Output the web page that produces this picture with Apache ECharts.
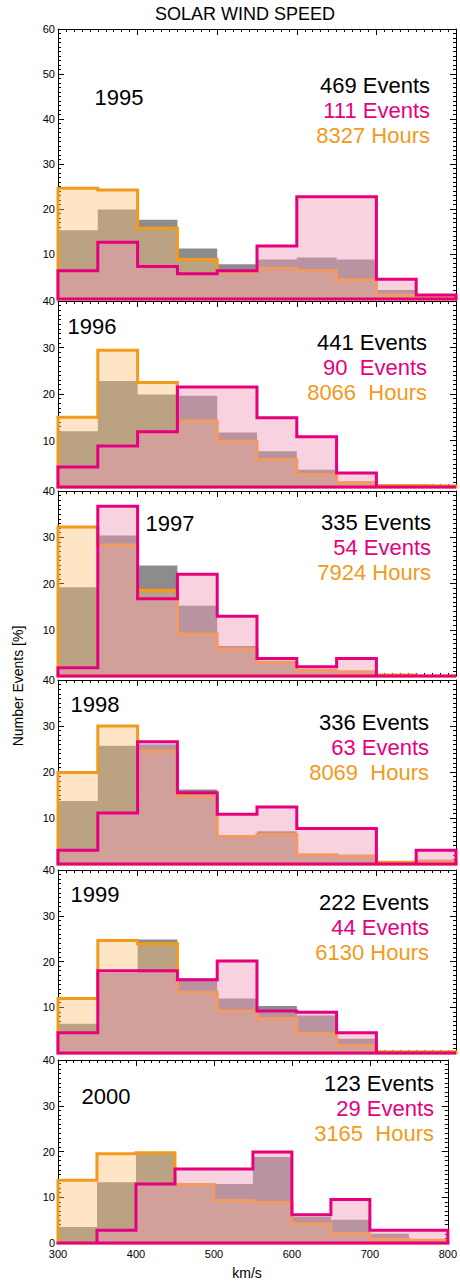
<!DOCTYPE html>
<html><head><meta charset="utf-8">
<script src="https://cdn.jsdelivr.net/npm/echarts@6.0.0/dist/echarts.min.js"></script>
<style>html,body{margin:0;padding:0;background:#fff}#c{width:460px;height:1282px}</style>
</head><body><div id="c"></div>
<script>
// ---- data ----
const binEdges = [300,350,400,450,500,550,600,650,700,750,800];
const years = ['1995','1996','1997','1998','1999','2000'];

// all events (gray), selected events (magenta), hours (orange) in % per 50 km/s bin
const all1995 = [15.3,19.9,17.6,11.2,7.7,8.8,9.2,8.8,2.0,1.0];
const hrs1995 = [24.6,24.2,15.7,8.8,6.0,6.8,6.3,4.2,0.9,0.5];
const sel1995 = [6.3,12.6,7.2,5.6,6.3,11.8,22.7,22.7,4.4,0.9];

const all1996 = [12.0,22.8,19.9,19.6,11.7,7.7,3.7,1.2,0.5,0.2];
const hrs1996 = [15.0,29.4,22.5,14.2,9.8,5.9,2.7,0.9,0.3,0.2];
const sel1996 = [4.3,8.8,11.9,21.5,21.5,14.9,10.8,3.0,0,0];

const all1997 = [19.2,30.4,23.9,15.2,6.5,3.3,1.4,1.1,0.2,0];
const hrs1997 = [32.2,28.3,18.5,9.1,5.8,2.9,1.2,0.9,0.2,0];
const sel1997 = [1.8,36.7,16.7,22.0,12.9,3.8,2.0,3.8,0,0];

const all1998 = [13.7,25.7,26.0,16.2,6.0,7.1,2.2,2.0,0.3,0.9];
const hrs1998 = [19.9,30.0,24.5,14.8,6.0,6.4,2.0,1.7,0.4,0.6];
const sel1998 = [3.0,11.1,26.6,15.5,10.8,12.4,7.7,7.7,0,3.0];

const all1999 = [6.4,17.5,24.8,16.3,11.9,10.3,8.2,3.1,0.2,0];
const hrs1999 = [11.9,24.6,23.9,13.3,9.2,7.5,4.2,1.7,0.3,0.3];
const sel1999 = [4.4,18.0,18.0,16.0,20.1,9.2,8.9,4.4,0,0];

const all2000 = [3.5,13.3,19.5,12.5,12.9,18.8,5.7,5.1,2.0,0.9];
const hrs2000 = [13.7,19.5,19.7,12.8,9.3,8.8,4.2,2.0,0.9,0.6];
const sel2000 = [0,2.8,12.9,16.2,16.2,19.9,6.2,9.5,2.8,2.8];

const countAll = ['469 Events','441 Events','335 Events','336 Events','222 Events','123 Events'];
const countSel = ['111 Events','90  Events','54 Events','63 Events','44 Events','29 Events'];
const countHrs = ['8327 Hours','8066  Hours','7924 Hours','8069  Hours','6130 Hours','3165  Hours'];
const yMaxList = [60,40,40,40,40,40];

const allSets = [all1995,all1996,all1997,all1998,all1999,all2000];
const hrsSets = [hrs1995,hrs1996,hrs1997,hrs1998,hrs1999,hrs2000];
const selSets = [sel1995,sel1996,sel1997,sel1998,sel1999,sel2000];

// ---- layout ----
const FONT = "'Liberation Sans', Arial, Helvetica, sans-serif";
const panelTop = [29,301,491,680,870,1060];
const panelHeight = [270,186,185,184,183,183];
const gridLeft = 58, gridRight = 4;
const yearPos = [[119,97],[92,326],[170,523],[95,704],[95,894],[106,1096]];
const countRight = [430,427,431,429,429,434];
const countTop = [85.5,342.5,522,722.5,902,1083];
const lineGap = 25;

const C_GRAY = '#8c8c8c';
const C_ORANGE = '#f29a1c';
const C_PINK = '#e6007e';

function areaData(vals){
  const d = vals.map((v,i)=>[binEdges[i], v]);
  d.push([binEdges[binEdges.length-1], vals[vals.length-1]]);
  return d;
}
function outlineData(vals){
  const d = [[binEdges[0],0]];
  vals.forEach((v,i)=>d.push([binEdges[i], v]));
  const last = binEdges[binEdges.length-1];
  d.push([last, vals[vals.length-1]]);
  d.push([last, 0]);
  d.push([binEdges[0], 0]);
  return d;
}

const grids=[], xAxes=[], yAxes=[], series=[], graphics=[];
const tickCommon = {
  axisLine:{show:true,onZero:false,lineStyle:{color:'#000',width:1}},
  axisTick:{show:true,inside:true,length:6,lineStyle:{color:'#000',width:1}},
  minorTick:{show:true,splitNumber:10,length:3,lineStyle:{color:'#000',width:1}},
  splitLine:{show:false}, minorSplitLine:{show:false}
};
for(let i=0;i<6;i++){
  grids.push({left:gridLeft,right:gridRight,top:panelTop[i],height:panelHeight[i],containLabel:false});
}
for(let i=0;i<6;i++){
  xAxes.push(Object.assign({type:'value',gridIndex:i,min:300,max:800,interval:100,position:'bottom',
    axisLabel:{show:i===5,fontSize:11,color:'#000',margin:5,fontFamily:FONT}}, JSON.parse(JSON.stringify(tickCommon))));
}
for(let i=0;i<6;i++){
  xAxes.push(Object.assign({type:'value',gridIndex:i,min:300,max:800,interval:100,position:'top',
    axisLabel:{show:false}}, JSON.parse(JSON.stringify(tickCommon))));
}
for(let i=0;i<6;i++){
  yAxes.push(Object.assign({type:'value',gridIndex:i,min:0,max:yMaxList[i],interval:10,position:'left',
    axisLabel:{show:true,fontSize:11,color:'#000',margin:3,fontFamily:FONT,showMinLabel:i===5,showMaxLabel:true}}, JSON.parse(JSON.stringify(tickCommon))));
}
for(let i=0;i<6;i++){
  yAxes.push(Object.assign({type:'value',gridIndex:i,min:0,max:yMaxList[i],interval:10,position:'right',
    axisLabel:{show:false}}, JSON.parse(JSON.stringify(tickCommon))));
}
for(let i=0;i<6;i++){
  const base = {type:'line',xAxisIndex:i,yAxisIndex:i,step:'end',symbol:'none',showSymbol:false,silent:true,animation:false};
  series.push(Object.assign({},base,{data:areaData(allSets[i]),lineStyle:{width:0,opacity:0},
    areaStyle:{color:C_GRAY,opacity:1},z:2}));
  series.push(Object.assign({},base,{data:areaData(hrsSets[i]),lineStyle:{width:0,opacity:0},
    areaStyle:{color:'rgb(250,193,119)',opacity:0.42},z:3}));
  series.push(Object.assign({},base,{data:outlineData(hrsSets[i]),clip:false,
    lineStyle:{color:C_ORANGE,width:3,join:'miter',cap:'square'},z:4}));
  series.push(Object.assign({},base,{data:areaData(selSets[i]),lineStyle:{width:0,opacity:0},
    areaStyle:{color:'rgb(240,158,184)',opacity:0.45},z:5}));
  series.push(Object.assign({},base,{data:outlineData(selSets[i]),clip:false,
    lineStyle:{color:C_PINK,width:3,join:'miter',cap:'square'},z:6}));

  graphics.push({type:'text',z:100,style:{text:years[i],x:yearPos[i][0],y:yearPos[i][1],
    font:'22px '+FONT,fill:'#000',textAlign:'center',textVerticalAlign:'middle',align:'center',verticalAlign:'middle'}});
  const lines=[[countAll[i],'#000'],[countSel[i],C_PINK],[countHrs[i],C_ORANGE]];
  lines.forEach((l,k)=>{
    graphics.push({type:'text',z:100,style:{text:l[0],x:countRight[i],y:countTop[i]+k*lineGap,
      font:'22px '+FONT,fill:l[1],textAlign:'right',textVerticalAlign:'middle',align:'right',verticalAlign:'middle'}});
  });
}
graphics.push({type:'text',z:100,style:{text:'SOLAR WIND SPEED',x:245,y:14,font:'18px '+FONT,fill:'#000',
  textAlign:'center',textVerticalAlign:'middle',align:'center',verticalAlign:'middle'}});
graphics.push({type:'text',z:100,x:18,y:686,rotation:Math.PI/2,style:{text:'Number Events [%]',x:0,y:0,font:'14px '+FONT,fill:'#000',
  textAlign:'center',textVerticalAlign:'middle',align:'center',verticalAlign:'middle'}});
graphics.push({type:'text',z:100,style:{text:'km/s',x:247,y:1273,font:'14px '+FONT,fill:'#000',
  textAlign:'center',textVerticalAlign:'middle',align:'center',verticalAlign:'middle'}});

const chart = echarts.init(document.getElementById('c'), null, {renderer:'svg',width:460,height:1282});
chart.setOption({
  animation:false,
  backgroundColor:'#fff',
  textStyle:{fontFamily:FONT},
  grid:grids, xAxis:xAxes, yAxis:yAxes, series:series, graphic:graphics
});
</script></body></html>
